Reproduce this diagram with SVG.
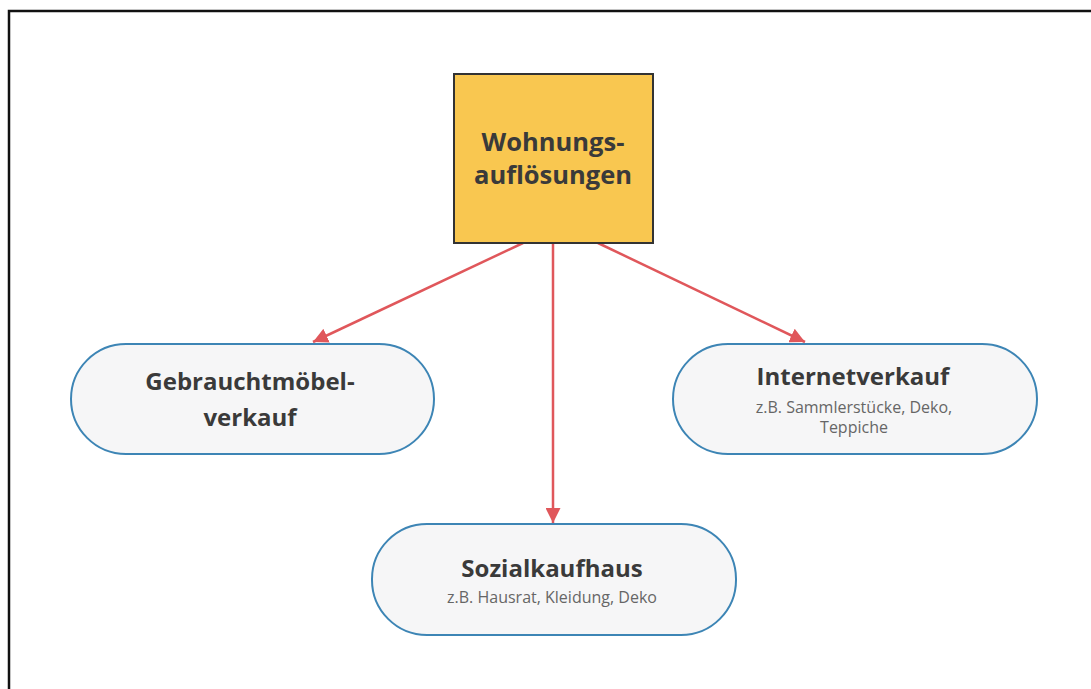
<svg xmlns="http://www.w3.org/2000/svg" width="1091" height="689" viewBox="0 0 1091 689">
<defs>
<marker id="ah" viewBox="0 0 10 10" refX="10" refY="5" markerWidth="6" markerHeight="6" markerUnits="strokeWidth" orient="auto">
<path d="M0,0 L10,5 L0,10 z" fill="#e0575b"/>
</marker>
<style>
.edge{stroke:#e0575b;stroke-width:2.5;fill:none;marker-end:url(#ah)}
.pill{fill:#f6f6f7;stroke:#3d85b5;stroke-width:2}
.t{font-family:"Open Sans","Noto Sans",sans-serif;font-weight:bold;fill:#3a3a3a;text-anchor:middle}
.s{font-family:"Open Sans","Noto Sans",sans-serif;fill:#666;text-anchor:middle;font-size:16px}
</style>
</defs>
<rect x="0" y="0" width="1091" height="689" fill="#fff"/>
<rect x="9" y="11" width="1100" height="700" fill="none" stroke="#111" stroke-width="2.5"/>
<g id="connectors">
<line class="edge" x1="523" y1="243" x2="313" y2="342"/>
<line class="edge" x1="553" y1="243" x2="553" y2="523"/>
<line class="edge" x1="598" y1="243" x2="805" y2="342"/>
</g>
<g id="node-wohnung">
<rect x="454" y="74" width="199" height="169" fill="#f9c750" stroke="#333" stroke-width="2"/>
<text class="t" x="553" y="151" font-size="25.5">Wohnungs-</text>
<text class="t" x="553" y="184" font-size="25.5">auflösungen</text>
</g>
<g id="node-gebraucht">
<rect class="pill" x="71" y="344" width="363" height="110" rx="55"/>
<text class="t" x="250" y="390" font-size="24">Gebrauchtmöbel-</text>
<text class="t" x="250" y="426" font-size="24">verkauf</text>
</g>
<g id="node-internet">
<rect class="pill" x="673" y="344" width="364" height="110" rx="55"/>
<text class="t" x="853" y="385" font-size="24">Internetverkauf</text>
<text class="s" x="854" y="413">z.B. Sammlerstücke, Deko,</text>
<text class="s" x="854" y="433">Teppiche</text>
</g>
<g id="node-sozial">
<rect class="pill" x="372" y="524" width="364" height="111" rx="55"/>
<text class="t" x="552" y="577" font-size="24">Sozialkaufhaus</text>
<text class="s" x="552" y="603">z.B. Hausrat, Kleidung, Deko</text>
</g>
</svg>
